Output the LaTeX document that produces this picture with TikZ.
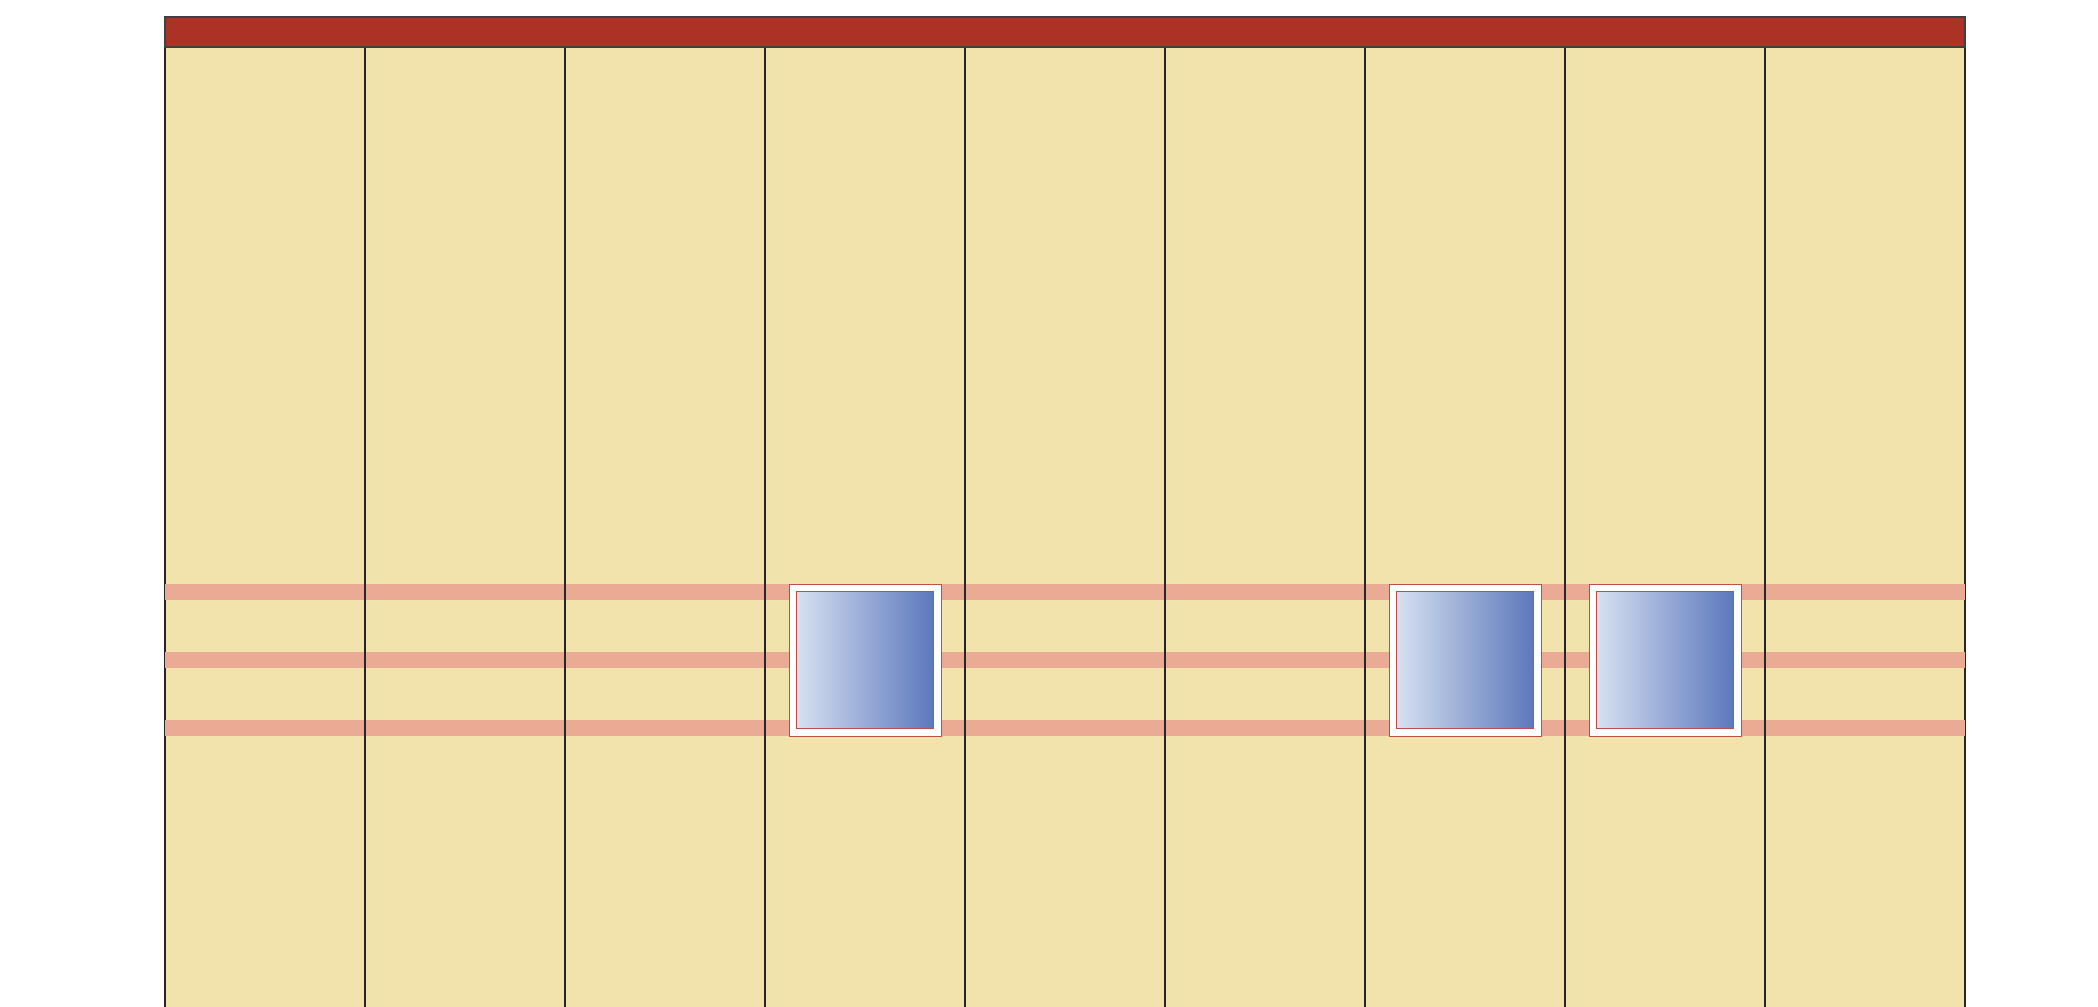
\documentclass[tikz,border=0pt]{standalone}
\usepackage{xcolor}
\usetikzlibrary{positioning}
\definecolor{wallfill}{HTML}{F2E3AC}
\definecolor{roofred}{HTML}{AB3224}
\definecolor{bandpink}{HTML}{EBAA94}
\definecolor{glasslight}{HTML}{D6E0F1}
\definecolor{glassdark}{HTML}{5B78BB}
\definecolor{framered}{HTML}{BF4E48}
\tikzset{
  panel/.style={draw=black!85, fill=wallfill, line width=1.5pt},
  roof/.style={draw=black!75, fill=roofred, line width=1.5pt},
  band/.style={fill=bandpink},
  winframe/.style={draw=framered, fill=white, line width=0.8pt, minimum size=45.6mm, inner sep=0pt},
  winglass/.style={draw=framered, line width=1pt, left color=glasslight, right color=glassdark,
                   minimum size=41.1mm, inner sep=0pt}
}
\begin{document}
\begin{tikzpicture}[x=0.3mm, y=-0.3mm]
\useasboundingbox (0,0) rectangle (2098,1006);
\clip (0,0) rectangle (2098,1006);
% wall panels
\foreach \i in {0,...,8}
  \draw[panel] ({165+200*\i},47) rectangle ({365+200*\i},1030);
% horizontal bands
\foreach \y in {584,652,720}
  \fill[band] (165,\y) rectangle (1965,{\y+16});
% redraw the panel joints over the bands
\foreach \i in {1,...,8}
  \draw[black!85, line width=1.5pt] ({165+200*\i},47) -- ({165+200*\i},1030);
% roof strip
\draw[roof] (165,17) rectangle (1965,47);
% windows
\foreach \c/\n in {865/wa,1465/wb,1665/wc}{
  \node[winframe] (\n) at (\c,660) {};
  \node[winglass] (\n g) at (\n.center) {};
}
\end{tikzpicture}
\end{document}
